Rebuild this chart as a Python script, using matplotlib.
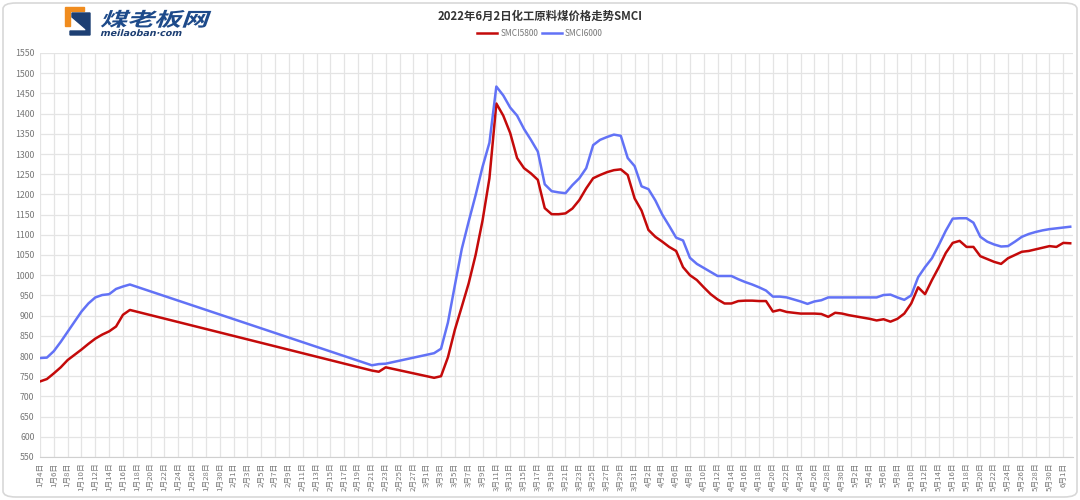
import pandas as pd
import matplotlib.pyplot as plt
from matplotlib.patches import FancyBboxPatch, Polygon, PathPatch
from matplotlib.textpath import TextPath
from matplotlib.font_manager import FontProperties
from matplotlib.transforms import Affine2D

plt.rcParams['font.family'] = ['Noto Sans CJK SC', 'DejaVu Sans']

# category axis: every calendar day 1/4 .. 6/2
all_days = pd.date_range('2022-01-04', '2022-06-02')
day_labels = [f'{d.month}月{d.day}日' for d in all_days]

# runs of consecutive dates that have data (gaps are joined by a straight line)
run_starts = ['2022-01-04', '2022-02-21', '2022-03-02']

smci5800_run1 = [737, 743, 757, 772, 790, 803, 816, 830, 843, 853, 861, 873, 902, 914]
smci6000_run1 = [795, 796, 812, 835, 860, 885, 910, 930, 945, 951, 953, 966, 972, 977]

smci5800_run2 = [764, 761, 772]
smci6000_run2 = [777, 780, 781]

smci5800_run3 = [746, 750, 797, 865, 922, 980, 1050, 1135, 1240, 1425,
                 1395, 1352, 1290, 1265, 1252, 1236, 1166, 1151, 1151, 1153,
                 1165, 1186, 1215, 1240, 1248, 1255, 1260, 1262, 1248, 1190,
                 1160, 1112, 1095, 1083, 1070, 1060, 1020, 1000, 988, 970,
                 953, 940, 930, 930, 936, 937, 937, 936, 936, 910,
                 914, 909, 907, 905, 905, 905, 904, 897, 907, 905,
                 901, 898, 895, 892, 888, 891, 885, 892, 905, 930,
                 970, 953, 988, 1020, 1055, 1080, 1085, 1070, 1070, 1047,
                 1040, 1033, 1028, 1042, 1050, 1058, 1060, 1064, 1068, 1072,
                 1070, 1080, 1079]
smci6000_run3 = [807, 818, 883, 975, 1065, 1133, 1198, 1268, 1328, 1467,
                 1445, 1415, 1395, 1362, 1335, 1306, 1225, 1208, 1205, 1203,
                 1223, 1240, 1265, 1322, 1335, 1342, 1348, 1345, 1290, 1270,
                 1220, 1213, 1185, 1150, 1122, 1093, 1086, 1043, 1028, 1018,
                 1008, 998, 998, 998, 990, 983, 977, 970, 962, 947,
                 947, 945, 940, 935, 929, 935, 938, 945, 945, 945,
                 945, 945, 945, 945, 945, 951, 952, 945, 939, 950,
                 995, 1020, 1042, 1075, 1110, 1140, 1141, 1141, 1130, 1095,
                 1083, 1076, 1071, 1072, 1083, 1095, 1102, 1107, 1111, 1114,
                 1116, 1118, 1120]

red = '#c40a0a'
blue = '#6272f6'
grey_txt = '#777777'
navy = '#1d3f73'


def build(runs):
    xs, ys = [], []
    for start, vals in zip(run_starts, runs):
        d0 = (pd.Timestamp(start) - all_days[0]).days
        xs += list(range(d0, d0 + len(vals)))
        ys += vals
    return xs, ys


x5800, y5800 = build([smci5800_run1, smci5800_run2, smci5800_run3])
x6000, y6000 = build([smci6000_run1, smci6000_run2, smci6000_run3])

fig = plt.figure(figsize=(10.8, 5.0), dpi=100)

# rounded card frame
frame = FancyBboxPatch((3 / 1080, 3 / 500), 1074 / 1080, 494 / 500,
                       boxstyle='round,pad=0,rounding_size=0.012',
                       transform=fig.transFigure, fill=False,
                       edgecolor='#d8d8d8', linewidth=1.2)
fig.add_artist(frame)

ax = fig.add_axes([40 / 1080, 43 / 500, 1033 / 1080, 404 / 500])
ax.plot(x5800, y5800, color=red, lw=1.8, label='SMCI5800', solid_joinstyle='round')
ax.plot(x6000, y6000, color=blue, lw=1.8, label='SMCI6000', solid_joinstyle='round')

ax.set_xlim(0, 149.4)
ax.set_ylim(550, 1550)
ax.set_yticks(range(550, 1551, 50))
ax.set_xticks(range(0, len(all_days), 2))
ax.set_xticklabels(day_labels[::2], rotation=90, fontsize=5.6, color=grey_txt)
ax.tick_params(axis='y', labelsize=6.3, labelcolor=grey_txt, length=0, pad=4)
ax.tick_params(axis='x', length=0, pad=4)
ax.grid(True, color='#e4e4e4', lw=0.9)
ax.set_axisbelow(True)
for s in ['top', 'right', 'left']:
    ax.spines[s].set_visible(False)
ax.spines['bottom'].set_color('#d0d0d0')

fig.text(0.5, 1 - 16 / 500, '2022年6月2日化工原料煤价格走势SMCI', ha='center', va='center',
         fontsize=8.2, color='#333333', fontweight='bold')
leg = fig.legend(loc='center', bbox_to_anchor=(0.5, 1 - 33 / 500), ncol=2, frameon=False,
                 fontsize=6, handlelength=2.4, handletextpad=0.4, columnspacing=0.4)
for t in leg.get_texts():
    t.set_color(grey_txt)

# logo, top left (pixel coordinates, y downwards)
lg = fig.add_axes([0, 1 - 42 / 500, 240 / 1080, 42 / 500])
lg.set_xlim(0, 240)
lg.set_ylim(42, 0)
lg.axis('off')
lg.add_patch(Polygon([(65, 7), (84, 7), (84, 11), (70, 11), (70, 26), (65, 26)],
                     color='#f08c1e'))
lg.add_patch(Polygon([(72, 13), (90, 13), (90, 35), (70, 35), (70, 31), (86, 31),
                      (86, 29), (72, 17)], color=navy))

logo_font = FontProperties(family='Noto Sans CJK SC', weight='bold')
tp = TextPath((0, 0), '煤老板网', size=1, prop=logo_font)
tr = Affine2D().skew_deg(14, 0).scale(27, -19).translate(100, 26) + lg.transData
lg.add_patch(PathPatch(tp, transform=tr, color='#1d4a8a', lw=0))
tp2 = TextPath((0, 0), 'meilaoban·com', size=1, prop=FontProperties(family='DejaVu Sans', weight='bold'))
tr2 = Affine2D().skew_deg(14, 0).scale(9.5, -9).translate(100, 36) + lg.transData
lg.add_patch(PathPatch(tp2, transform=tr2, color=navy, lw=0))

fig.savefig('out.png', dpi=100)
